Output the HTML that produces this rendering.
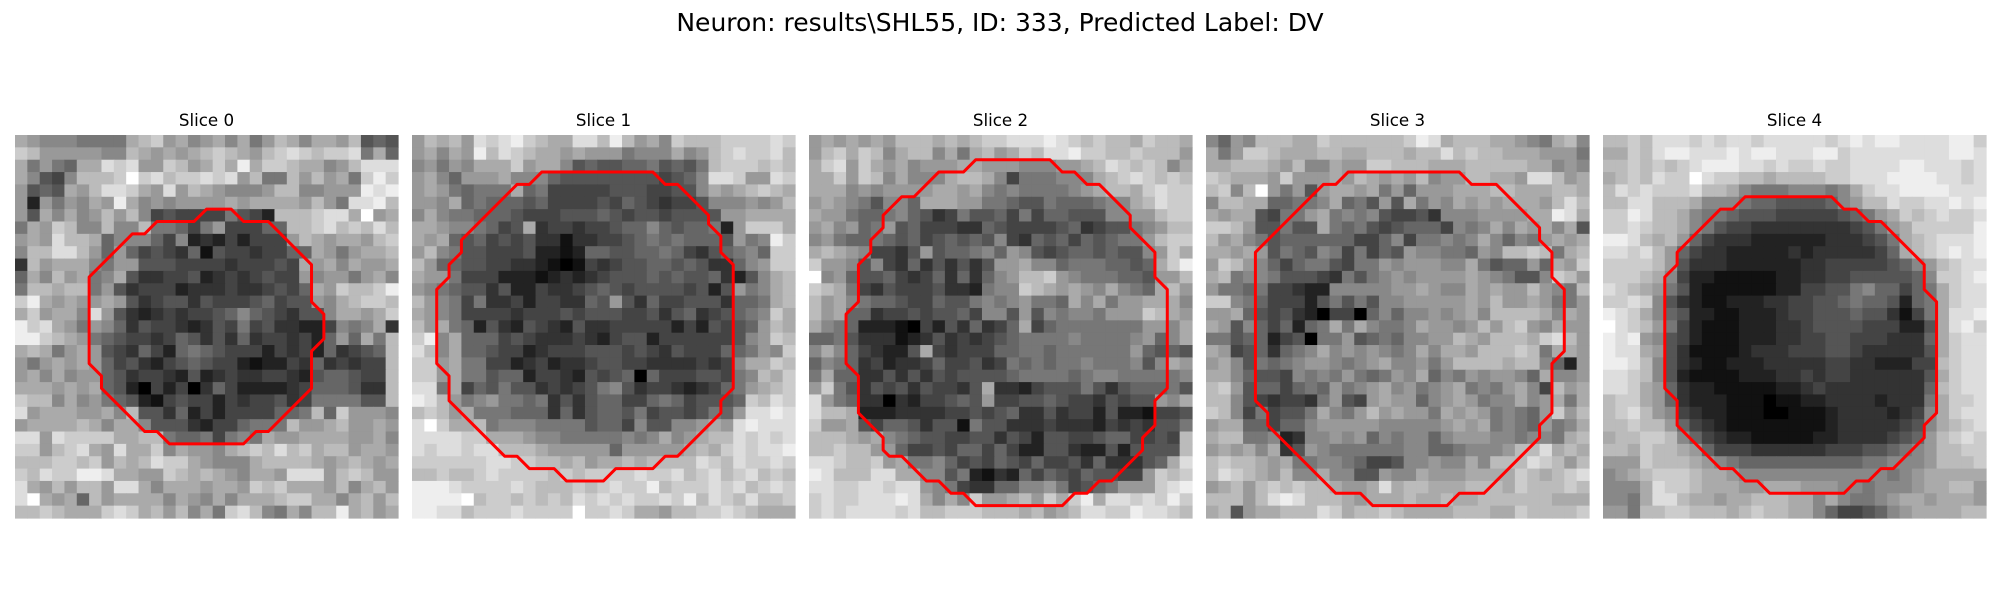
<!DOCTYPE html>
<html><head><meta charset="utf-8"><style>
html,body{margin:0;padding:0;background:#fff;width:2000px;height:600px;overflow:hidden}
svg{display:block}
text{font-family:"DejaVu Sans","Liberation Sans",sans-serif;fill:#000}
</style></head><body>
<svg id="fig" width="2000" height="600" viewBox="0 0 2000 600" xmlns="http://www.w3.org/2000/svg">
<text x="1000" y="31" font-size="25" text-anchor="middle">Neuron: results\SHL55, ID: 333, Predicted Label: DV</text>
</svg>
<script>
const sliceTitles=["Slice 0","Slice 1","Slice 2","Slice 3","Slice 4"];
const slice0=["a98887777abc9a89a8a79ba8aa9b565","cb9999988ba9a9abcba9bcdcbccd7a6","a7976aadcd99cb9acaeaccbaa89bddd","a8548bbbcfcdbccdcd9b77b9b9a7cec","9565a9bddca9d9ba98889bb88999ede","929798a9ea8989999a9aaaa9b97ddeb","95a8a89b9b84544447542bbbcddaf9a","7a9cb88b88b77647944466bbcdbcbdb","9a9dbba6888648232424449ba9aa9bc","8bbddb969645436154434466a979aab","3b9aaa87995554444344454a9a8a99a","6a8b9a78a53344523434544989979a8","7bbabb795344423334334546a9cbbce","cea9a99a953455354445645598abccb","ac9aa8d9532343445686543558aa9ac","ecda9798635443235474533224878a3","eecba97654434653536344342696a7b","aba79a954364267654442434263456b","979a9a964532456544212243634344b","9a8a89965344325234334432566544b","aaa9a9a65204240364222234666533b","cbb8a8976521454424344534777755b","d9aaa99a8b55362424444667b6c9998","9aaaaba8aa855532446777b99ab99a9","dd9dccccaabb76674787a99aaaa99a8","cc9bcda9daac8a998abcbdbcabb9aa9","bbbccbc9babdcca9888abbbba9aba9a","cbdcceedaa99cbaba98aa9ddd9bcb99","da9b9bb9dda8aaa9aa9cbcaaa9b8ab9","dfa9a6b9aaaa8a98a8aaabccaa8ab9b","bbcbaaacdcab9b8a7cdb87a8bbeab9a"];
const slice1=["9bab9dcdecbaaddbeb9a8cbbbccccdc","9a8a9ebdcbaa9a9997888a89bcdccdb","89798aaac9aa856556675657bcccbcb","9a86999a888655555555456 8ddc99dc".replace(" ",""),"9a976777a674444455544558a9abcba","998a67666564444546543445888989b","8a8776665444555654554555599aaaa","aa9887645a34434456686566729ccca","a9a65645453313344567676665978ec","9b875544452212665566764356786cc","b966554433210143455665653368 9cc".replace(" ",""),"a9974442221232345556565563258ab","98765535224334565455554525978ab","b9874733424433659536445553667ab","a9874444344454555445356345678ca","b9a76253254325334444424254569ba","ce8a6664543334324552444444589cb","db8a66544234445554543544466798c","cc9a77442342334554433334348aacb","cc9a7756624432545606444554 78bac".replace(" ",""),"dd7a465755343457853443234679abc","edb978977673535664467645556cbdc","bcb9a7776663635665745545769dded","dfcaab788877775664855889a9deddd","ddddccaaa98877777878a89abbdcdcd","dcddcddbbba99999699999abacdcdde","ccccccddccbbab9aababbbbdcbdccdc","bbcbbcdccccbcbccccdccdbcdbcdbcb","eeedccccdcbbbcbcdccebcccdcdbcdc","eeeefbccbcbcbdcdcdccdcebdcbdbbc","eeddbcccdccccfccdcaa9bbccdcbaaa"];
const slice2=["9a9a9a9bbbababccdddedcbcbbacbba","9bcacb8abb8a7ab9acbddeccbbcbbb9","acd9ca9a8999aa99988899abdcbcb8a","aac9cb8a888abba84777888abcdcbcb","aaa8989999aa9a878777789abbacdcc","9a9875886aaa99776557666788abdcc","a997667865347556474665558899bcc","9a8967956444336544445634557 89bb".replace(" ",""),"8976676564565658436564656779bcc","aba98443595667869854566565589ca","c9985843635353599a8867776656ace","f8965564346363689bbc9877766599b","cba74354445332788cba9a98a876ab9","b9a876654465578789776a8a799aaa8","b9a663445455648859587887999cba9","a8762221042536346a467777777998a","667533312353434567777877778968a","8a8643225a434446677677777796565","6876342334644534767677877785 8a9".replace(" ",""),"7a66335353545555677776788777778","9c753545354435a3324555753566675","d976330324456594455654435455 98a".replace(" ",""),"dbba222333344545633534425221445","c99a546653551755333433324343557","bbba9a876554455354255445664454b","bbcbb99644546646422553225255 55b".replace(" ",""),"ddcbbc9a778645465464453633356ad","edbbbddaa8857213264654655449cbc","ddccddcdd9874336688974567999cde","cdccdddeda8a8c99ab9caceaddcdcec","cdcddddcdbbcccbbbab9abddcceddcb"];
const slice3=["8698bbbaacbbbbbbcedabbbaa987ab8","a79ccbaaabbaabbbabbdbcbbaaa9997","aabbba9b88a99ccbbbaaabbbbbaa898","cbaaa9c999a9ba9a9b899bbaa9ddb9a","bc8bf97959aa9a796999aaabbaaabba","8bbaa66778a67595a798a9a9aaa9bdb","a9aa54779a7878544538889999aaeda","ccb955755a7675456664878a8a9a8a5","b9a8756666664468477878a86879a9a","aa9a95765874746598877698bbcb7ab","9cb986467754779899988a756696a9c","ab7887555437578989999a987558cb9","97767443228888899a988a9a99b987b","cc8764442575758899999a9b99a9779","99a654532044068688989a8bbbba8a9","a958646267a7a8778a9989b9bc98a99","77566245077956768899ba9bbbacdb9","a94563678a8989878a8aa9bbbcb7aa9","9a857678998789a88979bbbbabb8629","aa865548787976798a687989986a889","bc956646769789a89789a7879a84b9a","bb854344379549a99689a9788a89a7a","cb8474557a879b9a997a9a978769c9b","9aa66466899999888889a9a7876978a","abb77823889896878868999887887ab","9a9a8a3598777777886678889bbdaba","bcbba9a77887644588988a8bbbdcb9b","bdcba9b88a8855988a999aaaacbabcd","9ab9bcbcbba99adabbaaabbbacbbbcb","bbb9bdedbbba9aaabaabaabbbbbbaaa","ab59aabbbdcabbcbaaaabbbaacbbbbc"];
const slice4=["bbcbdddcdcddcdddddcdedeeddddeec","aacbdeedddedeedddeecddddddddeed","bbcbcbcdeeeddcdccdccddddeedddcd","abcbdccfdccbbabbbbccdddeeeeddcd","bdcdcccdbba877788878acddeeeeddd","bbddbbba8887665555689bbdccddede","ccedbba8776555444445679acbcdccd","ccdcbba87544333333334579accccce","eedbab964333222222333457abcddde","ddcdb9643322222323333346abcdede","ccccb9533322222233444445689bcdd","cccba8422111112233445555568ccde","dcba97521111112244557866467acdd","ccdc8532112223344556766526 7acdd".replace(" ",""),"edca86522112223445556553147adde","fdcb97421112223345555444225adec","ede985421112223344554443336acdd","edda95311112333444554333335acdd","eedb85321122233333443322244bcdd","ddcb85211112223343443333335acdd","ddca96322111112234333333336bcdd","bcca96322211101122333323337accd","bcdb98432211100111233332348acdd","bbcbb9643211111111233333458abcd","abbccb864322111112233334569bcdc","bbacbba96444333333444556789bbcc","999cbbba9876666666666778889bbbc","89abcccbaa9888888888888789aaaaa","888adccbaaa99aaa9998878889aabb9","887addbaa9aabbbaa8a87789aa9aaa9","997bbccbbbabcbbaa86445689aaaabb"];
const contour0=[[15.5,6],[17.5,6],[18.5,7],[20.5,7],[24,10.5],[24,13.5],[25,14.5],[25,16.5],[24,17.5],[24,20.5],[20.5,24],[19.5,24],[18.5,25],[12.5,25],[11.5,24],[10.5,24],[7,20.5],[7,19.5],[6,18.5],[6,11.5],[9.5,8],[10.5,8],[11.5,7],[14.5,7]];
const contour1=[[10.5,3],[19.5,3],[20.5,4],[21.5,4],[24,6.5],[24,7.2],[25,8.2],[25,9.5],[26,10.5],[26,20.5],[25,21.5],[25,22.5],[21.5,26],[20.5,26],[19.5,27],[16.5,27],[15.5,28],[12.5,28],[11.5,27],[9.5,27],[8.5,26],[7.5,26],[3,21.5],[3,19.5],[2,18.5],[2,12.5],[3,11.5],[3,10.5],[4,9.5],[4,8.5],[8.5,4],[9.5,4]];
const contour2=[[13.5,2],[19.5,2],[20.5,3],[21.5,3],[22.5,4],[23.5,4],[26,6.5],[26,7.5],[28,9.5],[28,11.5],[29,12.5],[29,20.5],[28,21.5],[28,23.5],[27,24.5],[27,25.5],[24.5,28],[23.5,28],[22.5,29],[21.5,29],[20.5,30],[13.5,30],[12.5,29],[11.5,29],[10.5,28],[9.5,28],[7.5,26],[6.5,26],[6,25.5],[6,24.5],[4,22.5],[4,19.5],[3,18.5],[3,14.5],[4,13.5],[4,10.5],[5,9.5],[5,8.5],[6,7.5],[6,6.5],[7.5,5],[8.5,5],[10.5,3],[12.5,3]];
const contour3=[[11.5,3],[20.5,3],[21.5,4],[23.5,4],[27,7.5],[27,8.5],[28,9.5],[28,11.5],[29,12.5],[29,17.5],[28,18.5],[28,22.5],[27,23.5],[27,24.5],[22.5,29],[20.5,29],[19.5,30],[13.5,30],[12.5,29],[10.5,29],[5,23.5],[5,22.5],[4,21.5],[4,9.5],[9.5,4],[10.5,4]];
const contour4=[[11.5,5],[18.5,5],[19.5,6],[20.5,6],[21.5,7],[22.5,7],[26,10.5],[26,12.5],[27,13.5],[27,22.5],[26,23.5],[26,24.5],[23.5,27],[22.5,27],[21.5,28],[20.5,28],[19.5,29],[13.5,29],[12.5,28],[11.5,28],[10.5,27],[9.5,27],[6,23.5],[6,21.5],[5,20.5],[5,11.5],[6,10.5],[6,9.5],[9.5,6],[10.5,6]];
const slices=[slice0,slice1,slice2,slice3,slice4];
const contours=[contour0,contour1,contour2,contour3,contour4];

const NS="http://www.w3.org/2000/svg";
const svg=document.getElementById('fig');
const N=31, panelW=383, panelY=135, panelStep=397, panelX0=15;
const cell=panelW/N;
function px(i,c){return panelX0+i*panelStep+c*cell;}
function py(r){return panelY+r*cell;}
function gray(ch){const v=parseInt(ch,16);const g=isNaN(v)?128:v*17;return `rgb(${g},${g},${g})`;}
slices.forEach((rows,i)=>{
  const g=document.createElementNS(NS,'g');
  
  
  svg.appendChild(g);
  const t=document.createElementNS(NS,'text');
  
  
  t.setAttribute('x',px(i,N/2));t.setAttribute('y',126);
  t.setAttribute('font-size','16.7');t.setAttribute('text-anchor','middle');
  t.textContent=sliceTitles[i];g.appendChild(t);
  const hm=document.createElementNS(NS,'g');
  
  
  g.appendChild(hm);
  for(let r=0;r<N;r++){
    const row=(rows[r]||'').padEnd(N,'9');
    for(let c=0;c<N;c++){
      const rc=document.createElementNS(NS,'rect');
      rc.setAttribute('x',px(i,c).toFixed(2));rc.setAttribute('y',py(r).toFixed(2));
      rc.setAttribute('width',(cell+0.6).toFixed(2));rc.setAttribute('height',(cell+0.6).toFixed(2));
      rc.setAttribute('fill',gray(row[c]));
      hm.appendChild(rc);
    }
  }
  const pl=document.createElementNS(NS,'polygon');
  
  
  pl.setAttribute('points',contours[i].map(p=>px(i,p[0]).toFixed(2)+','+py(p[1]).toFixed(2)).join(' '));
  pl.setAttribute('fill','none');pl.setAttribute('stroke','#ff0000');pl.setAttribute('stroke-width','3');
  pl.setAttribute('stroke-linejoin','round');
  g.appendChild(pl);
});
</script>
</body></html>
